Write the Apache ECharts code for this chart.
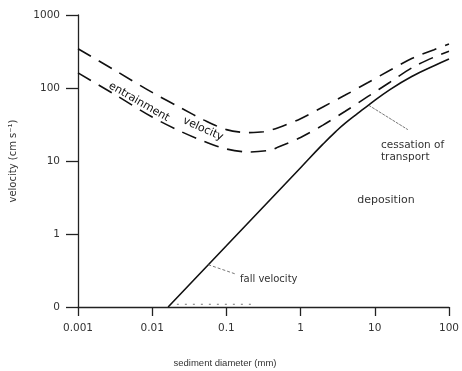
<!DOCTYPE html>
<html>
<head>
<meta charset="utf-8">
<script src="https://cdn.jsdelivr.net/npm/echarts@6/dist/echarts.min.js"></script>
<style>
html,body{margin:0;padding:0;background:#fff;}
#chart{width:462px;height:371px;}
</style>
</head>
<body>
<div id="chart"></div>
<script>
// x: sediment diameter (mm), y: velocity (cm/s)
var xTicks = [0.001, 0.01, 0.1, 1, 10, 100];
var yTicks = [0.1, 1, 10, 100, 1000];

var entrainUpper = [[0.001,345],[0.00316,174],[0.01,87],[0.0251,52.5],[0.0501,36.3],[0.1,26.9],[0.2,24.5],[0.316,25.1],[0.5,28.6],[1,38],[2,55],[4,80],[8,118],[16,175],[32,255],[63,335],[100,400]];
var entrainLower = [[0.001,161],[0.00316,81],[0.01,40],[0.0251,25],[0.0501,18.6],[0.1,14.6],[0.2,13.3],[0.398,14.1],[0.5,15.5],[1,21],[2,31],[4,48],[8,76],[16,120],[32,190],[63,265],[100,318]];
var fallVelocity = [[0.0164,0.1],[0.1,0.69],[1,8.1],[2,17],[3,25.5],[4,33],[6,45.5],[8,57],[16,95],[32,145],[63,202],[100,250]];
var dottedBase = [[0.0215,0.109],[0.244,0.109]];
var cessationLeader = [[8.28,58],[27.9,26.9]];
var fallLeader = [[0.0569,0.38],[0.137,0.28]];

var font = 'DejaVu Sans, Liberation Sans, sans-serif';
var myChart = echarts.init(document.getElementById('chart'));
var option = {
	animation: false,
	backgroundColor: '#fff',
	grid: {left: 76, right: 7, top: 15, bottom: 64},
	xAxis: {
		type: 'log',
		logBase: 10,
		min: 0.001,
		max: 100,
		axisLine: {lineStyle: {color: '#222', width: 1.3}},
		axisTick: {length: 9, lineStyle: {color: '#222', width: 1.3}},
		splitLine: {show: false},
		axisLabel: {
			color: '#333', fontSize: 10.5, fontFamily: font, margin: 16,
			formatter: function (v) { return String(v); }
		}
	},
	yAxis: {
		type: 'log',
		logBase: 10,
		min: 0.1,
		max: 1000,
		name: 'velocity (cm s\u207B\u00B9)',
		nameLocation: 'middle',
		nameGap: 60,
		nameTextStyle: {color: '#333', fontSize: 10, fontFamily: font},
		axisLine: {lineStyle: {color: '#222', width: 1.3}},
		axisTick: {length: 12, lineStyle: {color: '#222', width: 1.3}},
		splitLine: {show: false},
		axisLabel: {
			color: '#333', fontSize: 10.5, fontFamily: font, margin: 18,
			formatter: function (v) { return v < 1 ? '0' : String(v); }
		}
	},
	series: [
		{type: 'line', data: entrainUpper, smooth: 0.3, symbol: 'none',
			lineStyle: {color: '#111', width: 1.6, type: [15, 9]}},
		{type: 'line', data: entrainLower, smooth: 0.3, symbol: 'none',
			lineStyle: {color: '#111', width: 1.6, type: [15, 9]}},
		{type: 'line', data: fallVelocity, smooth: 0.5, symbol: 'none',
			lineStyle: {color: '#111', width: 1.6}},
		{type: 'line', data: dottedBase, symbol: 'none',
			lineStyle: {color: '#777', width: 1, type: [2, 6]}},
		{type: 'line', data: cessationLeader, symbol: 'none',
			lineStyle: {color: '#555', width: 0.8, type: [3, 1]}},
		{type: 'line', data: fallLeader, symbol: 'none',
			lineStyle: {color: '#555', width: 0.8, type: [3, 2]}}
	],
	graphic: [
		{type: 'text', x: 139, y: 102, rotation: -30 * Math.PI / 180,
			style: {text: 'entrainment', fontSize: 11, fontFamily: font, fill: '#111', align: 'center', verticalAlign: 'middle'}},
		{type: 'text', x: 203, y: 129, rotation: -24 * Math.PI / 180,
			style: {text: 'velocity', fontSize: 11, fontFamily: font, fill: '#111', align: 'center', verticalAlign: 'middle'}},
		{type: 'text', x: 381, y: 139,
			style: {text: 'cessation of\ntransport', fontSize: 10.5, lineHeight: 12, fontFamily: font, fill: '#333'}},
		{type: 'text', x: 386, y: 200,
			style: {text: 'deposition', fontSize: 11, fontFamily: font, fill: '#333', align: 'center', verticalAlign: 'middle'}},
		{type: 'text', x: 240, y: 279,
			style: {text: 'fall velocity', fontSize: 10, fontFamily: font, fill: '#333', verticalAlign: 'middle'}},
		{type: 'text', x: 225, y: 363,
			style: {text: 'sediment diameter (mm)', fontSize: 9.5, fontFamily: 'Liberation Sans, Arial, sans-serif', fill: '#333', align: 'center', verticalAlign: 'middle'}}
	]
};
myChart.setOption(option);
</script>
</body>
</html>
